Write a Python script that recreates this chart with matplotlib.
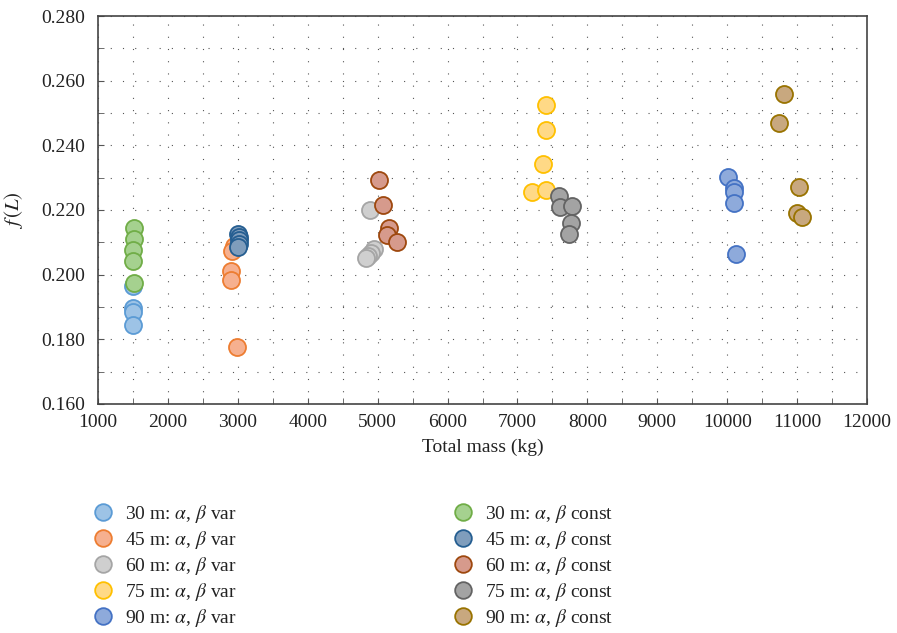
import matplotlib
matplotlib.use("Agg")
import matplotlib.pyplot as plt
from matplotlib.ticker import MultipleLocator, FormatStrFormatter
from matplotlib.lines import Line2D

plt.rcParams['font.family'] = ['Liberation Serif', 'DejaVu Serif']
plt.rcParams['mathtext.fontset'] = 'stix'

# total mass (kg) and f(L) per case
m30_var = [1500, 1495, 1505, 1495]
f30_var = [0.1964, 0.1897, 0.1883, 0.1845]
m45_var = [2950, 2920, 2905, 2900, 2985]
f45_var = [0.2090, 0.2072, 0.2012, 0.1984, 0.1776]
m60_var = [4890, 4944, 4906, 4867, 4834]
f60_var = [0.2201, 0.2079, 0.2066, 0.2058, 0.2051]
m75_var = [7405, 7405, 7370, 7213, 7413]
f75_var = [0.2524, 0.2446, 0.2342, 0.2255, 0.2262]
m90_var = [10013, 10099, 10099, 10099, 10127]
f90_var = [0.2303, 0.2268, 0.2257, 0.2221, 0.2064]

m30_const = [1515, 1515, 1505, 1500, 1520]
f30_const = [0.2144, 0.2111, 0.2075, 0.2043, 0.1975]
m45_const = [3005, 3012, 3015, 3015, 3005]
f45_const = [0.2126, 0.2116, 0.2106, 0.2094, 0.2086]
m60_const = [5024, 5077, 5167, 5139, 5273]
f60_const = [0.2293, 0.2214, 0.2144, 0.2123, 0.2102]
m75_const = [7600, 7609, 7781, 7767, 7733]
f75_const = [0.2243, 0.2208, 0.2212, 0.2159, 0.2125]
m90_const = [10810, 10742, 11033, 10994, 11072]
f90_const = [0.2559, 0.2470, 0.2271, 0.2192, 0.2179]

var_labels = ['30 m: $\\alpha$, $\\beta$ var', '45 m: $\\alpha$, $\\beta$ var',
              '60 m: $\\alpha$, $\\beta$ var', '75 m: $\\alpha$, $\\beta$ var',
              '90 m: $\\alpha$, $\\beta$ var']
const_labels = ['30 m: $\\alpha$, $\\beta$ const', '45 m: $\\alpha$, $\\beta$ const',
                '60 m: $\\alpha$, $\\beta$ const', '75 m: $\\alpha$, $\\beta$ const',
                '90 m: $\\alpha$, $\\beta$ const']

var_face = ['#9dc3e6', '#f6b08f', '#cfcfcf', '#ffd986', '#8eaadb']
var_edge = ['#5b9bd5', '#ed7d31', '#a5a5a5', '#ffc000', '#4472c4']
const_face = ['#a5d18f', '#7f9dbc', '#d69a8c', '#a3a3a3', '#c8a87f']
const_edge = ['#70ad47', '#255e91', '#9e480e', '#636363', '#997300']

var_data = [(m30_var, f30_var), (m45_var, f45_var), (m60_var, f60_var),
            (m75_var, f75_var), (m90_var, f90_var)]
const_data = [(m30_const, f30_const), (m45_const, f45_const), (m60_const, f60_const),
              (m75_const, f75_const), (m90_const, f90_const)]

fig = plt.figure(figsize=(8.97, 6.33), dpi=100)
ax = fig.add_axes([0.1093, 0.3618, 0.8573, 0.6129])

for (m, f), fc, ec in zip(var_data, var_face, var_edge):
    ax.scatter(m, f, s=150, facecolor=fc, edgecolor=ec, linewidth=1.3, zorder=3)
for (m, f), fc, ec in zip(const_data, const_face, const_edge):
    ax.scatter(m, f, s=150, facecolor=fc, edgecolor=ec, linewidth=1.3, zorder=3)

ax.set_xlim(1000, 12000)
ax.set_ylim(0.160, 0.280)
ax.xaxis.set_major_locator(MultipleLocator(1000))
ax.xaxis.set_minor_locator(MultipleLocator(500))
ax.yaxis.set_major_locator(MultipleLocator(0.02))
ax.yaxis.set_minor_locator(MultipleLocator(0.01))
ax.yaxis.set_major_formatter(FormatStrFormatter('%.3f'))

ax.grid(True, which='both', color='#555555', linestyle=(0, (1, 10)), linewidth=0.8)
ax.set_axisbelow(True)
ax.tick_params(which='both', direction='in', length=4, color='#555555',
               labelsize=14, colors='#222222')
ax.tick_params(axis='y', pad=9)
ax.tick_params(axis='x', pad=7)
for sp in ax.spines.values():
    sp.set_color('#444444')
    sp.set_linewidth(1.2)

ax.set_xlabel('Total mass (kg)', fontsize=14, color='#222222', labelpad=6)
ax.set_ylabel('$f\\,(L)$', fontsize=15, color='#222222', labelpad=12)

def handles(faces, edges):
    return [Line2D([], [], linestyle='none', marker='o', markersize=12,
                   markerfacecolor=fc, markeredgecolor=ec, markeredgewidth=1.3)
            for fc, ec in zip(faces, edges)]

leg_kw = dict(loc='upper left', frameon=False, fontsize=14, handletextpad=0.55,
              labelspacing=0.21, borderpad=0, handlelength=1.2, labelcolor='#222222')
fig.legend(handles(var_face, var_edge), var_labels,
           bbox_to_anchor=(0.091, 0.221), **leg_kw)
fig.legend(handles(const_face, const_edge), const_labels,
           bbox_to_anchor=(0.492, 0.221), **leg_kw)

fig.savefig('out.png', dpi=100)
